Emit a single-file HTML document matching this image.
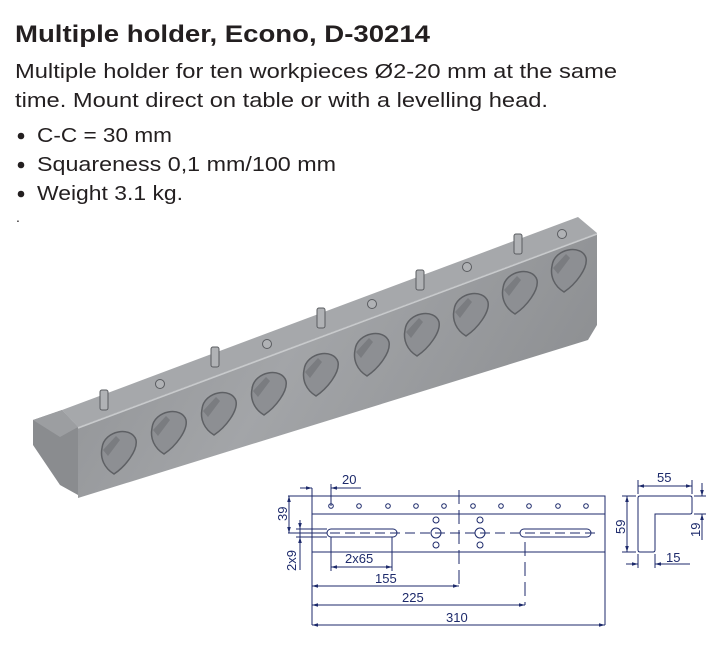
<!DOCTYPE html>
<html><head><meta charset="utf-8"><style>
html,body{margin:0;padding:0;background:#fff;}
svg{display:block;}
</style></head><body>
<svg width="727" height="655" viewBox="0 0 727 655" xmlns="http://www.w3.org/2000/svg">
<defs>
<linearGradient id="fr" x1="0" y1="0" x2="1" y2="0.3">
<stop offset="0" stop-color="#8e9093"/><stop offset="0.5" stop-color="#a3a5a8"/><stop offset="1" stop-color="#8f9194"/></linearGradient>
<marker id="a" viewBox="0 0 10 6" refX="10" refY="3" markerWidth="6" markerHeight="4" orient="auto-start-reverse"><path d="M0,0L10,3L0,6z" fill="#1d2a6b"/></marker>
<path id="hp" d="M-16,-4 C-14,-22 14,-26 18,-12 C20,-2 8,14 -4,22 C-14,16 -18,6 -16,-4Z"/>
</defs>
<g font-family="'Liberation Sans',sans-serif" fill="#231f20">
<text x="15" y="42" font-size="24" font-weight="bold" textLength="415" lengthAdjust="spacingAndGlyphs">Multiple holder, Econo, D-30214</text>
<text x="15" y="78" font-size="20" textLength="602" lengthAdjust="spacingAndGlyphs">Multiple holder for ten workpieces Ø2-20 mm at the same</text>
<text x="15" y="107" font-size="20" textLength="533" lengthAdjust="spacingAndGlyphs">time. Mount direct on table or with a levelling head.</text>
<circle cx="21" cy="136" r="3.3"/><text x="37" y="142" font-size="20" textLength="135" lengthAdjust="spacingAndGlyphs">C-C = 30 mm</text>
<circle cx="21" cy="165" r="3.3"/><text x="37" y="171" font-size="20" textLength="299" lengthAdjust="spacingAndGlyphs">Squareness 0,1 mm/100 mm</text>
<circle cx="21" cy="194" r="3.3"/><text x="37" y="200" font-size="20" textLength="146" lengthAdjust="spacingAndGlyphs">Weight 3.1 kg.</text>
<text x="16" y="222" font-size="14">.</text>
</g>
<!-- block -->
<polygon points="33,420 62,410 78,427 78,495 60,485 33,445" fill="#8a8c8f"/>
<polygon points="33,420 62,410 78,427 60,437" fill="#9c9ea1"/>
<polygon points="62,410 578,217 597,233 78,427" fill="#a6a8ab"/>
<polygon points="78,427 597,233 597,325 588,340 78,498" fill="url(#fr)"/>
<line x1="78" y1="428" x2="597" y2="234" stroke="#c9cbcd" stroke-width="1.5"/>
<g fill="#8d8f93" stroke="#5e6064" stroke-width="1.5">
<use href="#hp" x="118" y="452"/><use href="#hp" x="168" y="432"/><use href="#hp" x="218" y="413"/><use href="#hp" x="268" y="393"/><use href="#hp" x="320" y="374"/><use href="#hp" x="371" y="354"/><use href="#hp" x="421" y="334"/><use href="#hp" x="470" y="314"/><use href="#hp" x="519" y="292"/><use href="#hp" x="568" y="270"/>
</g>
<g fill="#7a7c80">
<path d="M103,450 L116,436 L120,440 L108,456Z"/><path d="M153,430 L166,416 L170,420 L158,436Z"/><path d="M203,411 L216,397 L220,401 L208,417Z"/><path d="M253,391 L266,377 L270,381 L258,397Z"/><path d="M305,372 L318,358 L322,362 L310,378Z"/><path d="M356,352 L369,338 L373,342 L361,358Z"/><path d="M406,332 L419,318 L423,322 L411,338Z"/><path d="M455,312 L468,298 L472,302 L460,318Z"/><path d="M504,290 L517,276 L521,280 L509,296Z"/><path d="M553,268 L566,254 L570,258 L558,274Z"/>
</g>
<g fill="#b0b2b5" stroke="#5a5c60" stroke-width="1">
<rect x="100" y="390" width="8" height="20" rx="2"/>
<rect x="211" y="347" width="8" height="20" rx="2"/>
<rect x="317" y="308" width="8" height="20" rx="2"/>
<rect x="416" y="270" width="8" height="20" rx="2"/>
<rect x="514" y="234" width="8" height="20" rx="2"/>
<ellipse cx="160" cy="384" rx="4.5" ry="4.5"/>
<ellipse cx="267" cy="344" rx="4.5" ry="4.5"/>
<ellipse cx="372" cy="304" rx="4.5" ry="4.5"/>
<ellipse cx="467" cy="267" rx="4.5" ry="4.5"/>
<ellipse cx="562" cy="234" rx="4.5" ry="4.5"/>
</g>
<!-- drawing -->
<g stroke="#1d2a6b" stroke-width="1" fill="none">
<rect x="312" y="496" width="293" height="56" fill="#fff"/>
<line x1="312" y1="514" x2="605" y2="514"/>
<g>
<circle cx="331" cy="506" r="2.3"/><circle cx="359" cy="506" r="2.3"/><circle cx="388" cy="506" r="2.3"/><circle cx="416" cy="506" r="2.3"/><circle cx="444" cy="506" r="2.3"/><circle cx="473" cy="506" r="2.3"/><circle cx="501" cy="506" r="2.3"/><circle cx="529" cy="506" r="2.3"/><circle cx="558" cy="506" r="2.3"/><circle cx="586" cy="506" r="2.3"/>
</g>
<rect x="327" y="529" width="70" height="8" rx="4"/>
<rect x="520" y="529" width="71" height="8" rx="4"/>
<circle cx="436" cy="520" r="3"/><circle cx="436" cy="533" r="5"/><circle cx="436" cy="545" r="3"/>
<circle cx="480" cy="520" r="3"/><circle cx="480" cy="533" r="5"/><circle cx="480" cy="545" r="3"/>
<line x1="300" y1="533" x2="600" y2="533" stroke-dasharray="10,5"/>
<line x1="459" y1="490" x2="459" y2="588" stroke-dasharray="14,6"/>
<line x1="525" y1="542" x2="525" y2="605" stroke-dasharray="14,6"/>
<line x1="312" y1="488" x2="312" y2="625"/>
<line x1="605" y1="552" x2="605" y2="625"/>
<line x1="331" y1="484" x2="331" y2="506"/>
<line x1="300" y1="488" x2="312" y2="488" marker-end="url(#a)"/>
<line x1="343" y1="488" x2="331" y2="488" marker-end="url(#a)"/>
<line x1="331" y1="488" x2="361" y2="488"/>
<line x1="288" y1="496" x2="312" y2="496"/>
<line x1="288" y1="533" x2="327" y2="533"/>
<line x1="289" y1="496" x2="289" y2="533" marker-start="url(#a)" marker-end="url(#a)"/>
<line x1="300" y1="520" x2="300" y2="529" marker-end="url(#a)"/>
<line x1="300" y1="550" x2="300" y2="537" marker-end="url(#a)"/>
<line x1="300" y1="529" x2="300" y2="570"/>
<line x1="296" y1="529" x2="327" y2="529"/><line x1="296" y1="537" x2="327" y2="537"/>
<line x1="331" y1="537" x2="331" y2="571"/><line x1="392" y1="537" x2="392" y2="571"/>
<line x1="331" y1="567" x2="392" y2="567" marker-start="url(#a)" marker-end="url(#a)"/>
<line x1="312" y1="586" x2="459" y2="586" marker-start="url(#a)" marker-end="url(#a)"/>
<line x1="312" y1="605" x2="525" y2="605" marker-start="url(#a)" marker-end="url(#a)"/>
<line x1="312" y1="625" x2="605" y2="625" marker-start="url(#a)" marker-end="url(#a)"/>
<path d="M640,496 L690,496 Q692,496 692,498 L692,512 Q692,514 690,514 L655,514 L655,550 Q655,552 653,552 L640,552 Q638,552 638,550 L638,498 Q638,496 640,496Z" fill="#fff"/>
<line x1="638" y1="480" x2="638" y2="494"/><line x1="692" y1="480" x2="692" y2="494"/>
<line x1="638" y1="486" x2="692" y2="486" marker-start="url(#a)" marker-end="url(#a)"/>
<line x1="622" y1="496" x2="636" y2="496"/><line x1="622" y1="552" x2="636" y2="552"/>
<line x1="627" y1="496" x2="627" y2="552" marker-start="url(#a)" marker-end="url(#a)"/>
<line x1="694" y1="496" x2="706" y2="496"/><line x1="694" y1="514" x2="706" y2="514"/>
<line x1="702" y1="483" x2="702" y2="496" marker-end="url(#a)"/>
<line x1="702" y1="540" x2="702" y2="514" marker-end="url(#a)"/>
<line x1="638" y1="554" x2="638" y2="568"/><line x1="655" y1="554" x2="655" y2="568"/>
<line x1="626" y1="564" x2="638" y2="564" marker-end="url(#a)"/>
<line x1="690" y1="564" x2="655" y2="564" marker-end="url(#a)"/>
</g>
<g font-family="'Liberation Sans',sans-serif" font-size="13" fill="#1d2a6b">
<text x="342" y="484">20</text>
<text x="345" y="563">2x65</text>
<text x="375" y="583">155</text>
<text x="402" y="602">225</text>
<text x="446" y="622">310</text>
<text x="657" y="482">55</text>
<text x="666" y="562">15</text>
<text transform="translate(287,521) rotate(-90)">39</text>
<text transform="translate(296,571) rotate(-90)">2x9</text>
<text transform="translate(625,534) rotate(-90)">59</text>
<text transform="translate(700,537) rotate(-90)">19</text>
</g>
</svg>
</body></html>
